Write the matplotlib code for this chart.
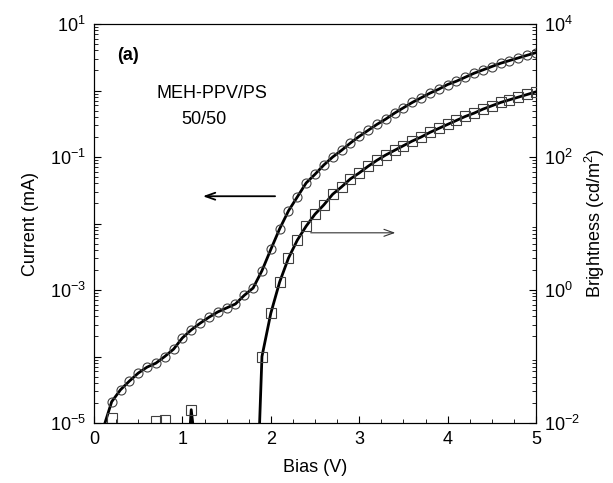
import numpy as np
import matplotlib
matplotlib.use('Agg')
import matplotlib.pyplot as plt
from matplotlib.ticker import FixedLocator, FuncFormatter, MultipleLocator, NullFormatter

plt.rcParams['font.family'] = ['Liberation Sans', 'DejaVu Sans']
plt.rcParams['mathtext.default'] = 'regular'

# current vs bias (left axis, mA)
bias_i = [0.1, 0.2, 0.3, 0.4, 0.5, 0.6, 0.7, 0.8, 0.9, 1.0,
          1.1, 1.2, 1.3, 1.4, 1.5, 1.6, 1.7, 1.8, 1.9, 2.0,
          2.1, 2.2, 2.3, 2.4, 2.5, 2.6, 2.7, 2.8, 2.9, 3.0,
          3.1, 3.2, 3.3, 3.4, 3.5, 3.6, 3.7, 3.8, 3.9, 4.0,
          4.1, 4.2, 4.3, 4.4, 4.5, 4.6, 4.7, 4.8, 4.9, 5.0]
log_current = [-5.1, -4.68, -4.50, -4.37, -4.25, -4.16, -4.10, -4.00, -3.89, -3.72,
               -3.60, -3.50, -3.41, -3.33, -3.27, -3.21, -3.08, -2.97, -2.71, -2.39,
               -2.08, -1.81, -1.60, -1.39, -1.26, -1.12, -1.00, -0.90, -0.79, -0.69,
               -0.60, -0.51, -0.43, -0.34, -0.26, -0.18, -0.11, -0.04, 0.02, 0.09,
               0.14, 0.20, 0.26, 0.31, 0.36, 0.41, 0.45, 0.49, 0.53, 0.57]

# brightness vs bias (right axis, cd/m2)
bias_b = [1.86, 1.9, 2.0, 2.1, 2.2, 2.3, 2.4, 2.5, 2.6, 2.7, 2.8, 2.9,
          3.0, 3.1, 3.2, 3.3, 3.4, 3.5, 3.6, 3.7, 3.8, 3.9,
          4.0, 4.1, 4.2, 4.3, 4.4, 4.5, 4.6, 4.7, 4.8, 4.9, 5.0]
log_bright = [-2.5, -1.0, -0.35, 0.12, 0.48, 0.75, 0.96, 1.14, 1.28, 1.44, 1.55, 1.67,
              1.76, 1.86, 1.95, 2.03, 2.10, 2.17, 2.24, 2.30, 2.37, 2.43,
              2.49, 2.55, 2.61, 2.66, 2.72, 2.77, 2.82, 2.86, 2.90, 2.94, 2.98]

# stray low-bias brightness points near the noise floor
bias_noise = [0.2, 0.7, 0.8, 1.1]
log_noise = [-1.92, -1.97, -1.95, -1.80]
bias_spike = [1.07, 1.1, 1.15]
log_spike = [-2.4, -1.80, -2.4]

current = 10 ** np.array(log_current)
bright = 10 ** np.array(log_bright)

fig = plt.figure(figsize=(6.13, 4.83), dpi=100)
ax = fig.add_axes([94 / 613, 1 - 423 / 483, (536 - 94) / 613, (423 - 24) / 483])
ax2 = ax.twinx()

ax.plot(bias_i, current, color='black', lw=2.0, zorder=3)
ax.plot(bias_i[1:], current[1:], 'o', ms=6.5, mfc='none', mec='#404040', mew=0.8, zorder=4)

ax2.plot(bias_b, bright, color='black', lw=2.0, zorder=3)
ax2.plot(bias_b[1:], bright[1:], 's', ms=6.5, mfc='none', mec='#404040', mew=0.8, zorder=4)
ax2.plot(bias_spike, 10 ** np.array(log_spike), color='black', lw=2.0)
ax2.plot(bias_noise, 10 ** np.array(log_noise), 's', ms=6.5, mfc='none', mec='#404040', mew=0.8)

ax.set_xlim(0, 5)
ax.set_yscale('log')
ax.set_ylim(1e-5, 10)
ax2.set_yscale('log')
ax2.set_ylim(1e-2, 1e4)

def odd_label(v, pos):
    e = int(round(np.log10(v)))
    return r'$10^{%d}$' % e if e % 2 else ''

ax.yaxis.set_major_locator(FixedLocator([10.0 ** e for e in range(-5, 2)]))
ax.yaxis.set_major_formatter(FuncFormatter(odd_label))
ax.yaxis.set_minor_locator(FixedLocator([m * 10.0 ** e for e in range(-5, 1) for m in range(2, 10)]))
ax.yaxis.set_minor_formatter(NullFormatter())
ax2.yaxis.set_major_locator(FixedLocator([1e-2, 1e0, 1e2, 1e4]))
ax2.yaxis.set_major_formatter(FuncFormatter(lambda v, p: r'$10^{%d}$' % int(round(np.log10(v)))))
ax2.yaxis.set_minor_locator(FixedLocator([m * 10.0 ** e for e in range(-2, 4) for m in range(2, 10)]))
ax2.yaxis.set_minor_formatter(NullFormatter())

ax.xaxis.set_major_locator(MultipleLocator(1))
ax.xaxis.set_minor_locator(MultipleLocator(0.25))

ax.tick_params(which='both', direction='in', top=False, right=False, labelsize=13)
ax.tick_params(which='major', length=5, pad=6)
ax.tick_params(which='minor', length=3)
ax2.tick_params(which='both', direction='in', labelsize=13)
ax2.tick_params(which='major', length=5, pad=6)
ax2.tick_params(which='minor', length=3)

ax.set_xlabel('Bias (V)', fontsize=13, labelpad=8)
ax.set_ylabel('Current (mA)', fontsize=13, labelpad=8)
ax2.set_ylabel('Brightness (cd/m$^2$)', fontsize=13, labelpad=2)

ax.text(0.26, 10 ** 0.52, '(a)', fontsize=13, fontweight='bold', va='center')
ax.text(0.71, 10 ** -0.04, 'MEH-PPV/PS', fontsize=13, va='center')
ax.text(0.99, 10 ** -0.44, '50/50', fontsize=13, va='center')

ax.annotate('', xy=(1.20, 10 ** -1.59), xytext=(2.08, 10 ** -1.59),
            arrowprops=dict(arrowstyle='->,head_length=0.7,head_width=0.25', lw=1.3, color='black'))
ax.annotate('', xy=(3.44, 10 ** -2.14), xytext=(2.42, 10 ** -2.14),
            arrowprops=dict(arrowstyle='->,head_length=0.7,head_width=0.25', lw=0.8, color='#333333'))

plt.savefig('out.png', dpi=100)
